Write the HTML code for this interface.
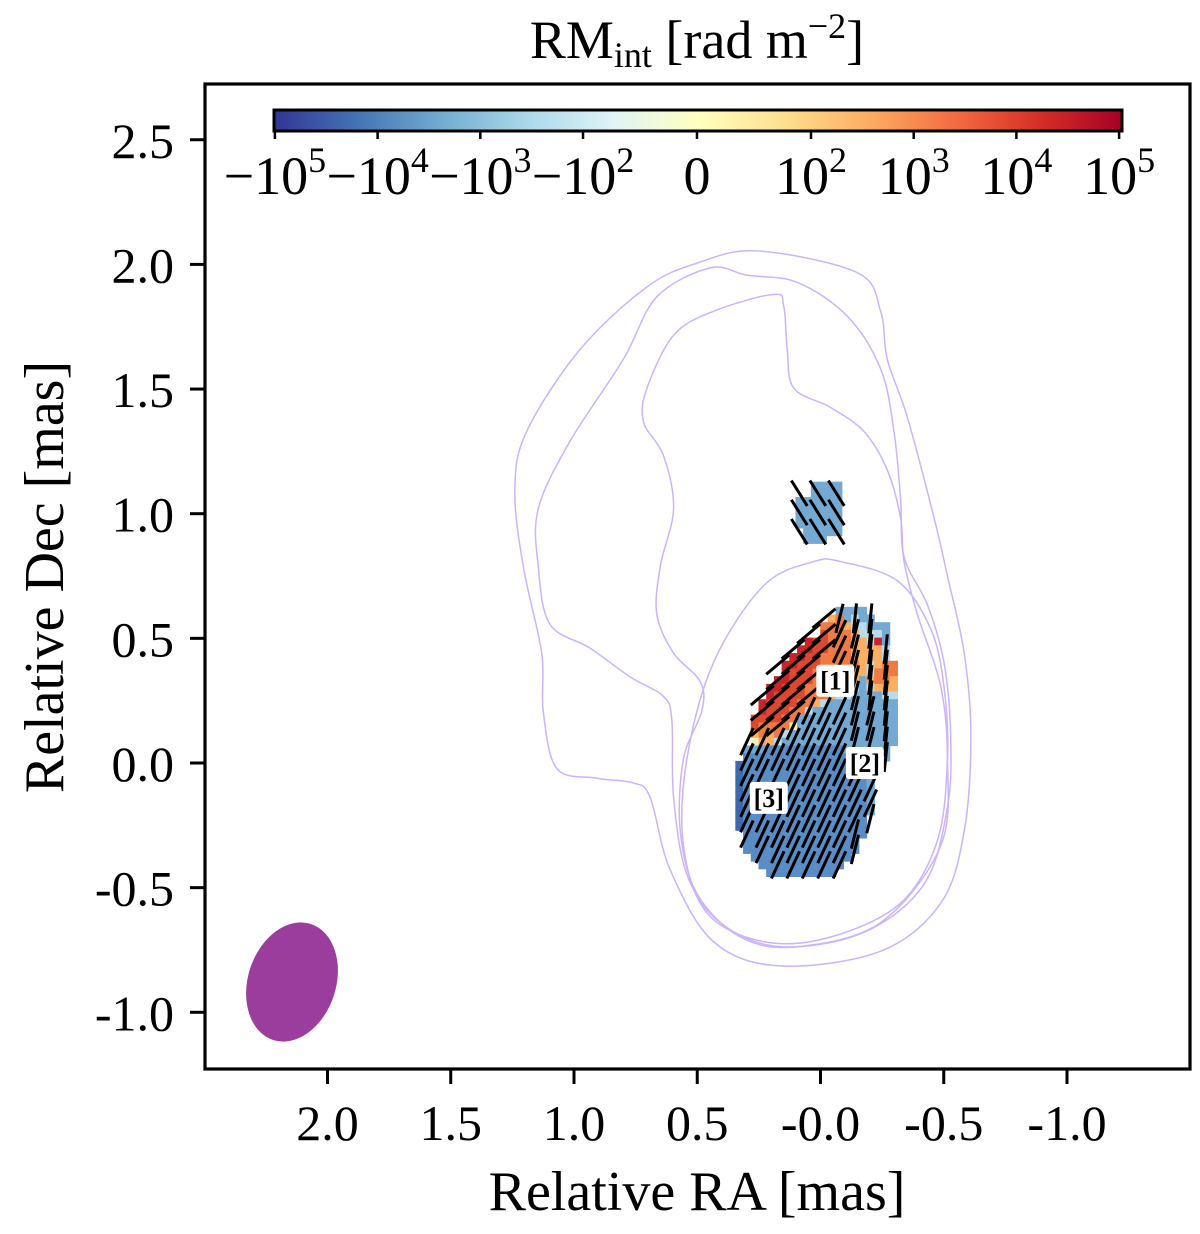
<!DOCTYPE html>
<html><head><meta charset="utf-8"><style>
html,body{margin:0;padding:0;background:#fff}
svg{display:block;font-family:"Liberation Serif",serif}
</style></head><body>
<svg id="chart" width="1200" height="1234" viewBox="0 0 1200 1234" xmlns="http://www.w3.org/2000/svg">
<defs>
<linearGradient id="cmap" x1="0" x2="1" y1="0" y2="0">
<stop offset="0" stop-color="#313695"/><stop offset="0.1" stop-color="#4575b4"/><stop offset="0.2" stop-color="#74add1"/><stop offset="0.3" stop-color="#abd9e9"/><stop offset="0.4" stop-color="#e0f3f8"/><stop offset="0.5" stop-color="#ffffbf"/><stop offset="0.6" stop-color="#fee090"/><stop offset="0.7" stop-color="#fdae61"/><stop offset="0.8" stop-color="#f46d43"/><stop offset="0.9" stop-color="#d73027"/><stop offset="1" stop-color="#a50026"/>
</linearGradient>
<clipPath id="plotclip"><rect x="205" y="84" width="985" height="985"/></clipPath>
</defs>
<g id="contours" clip-path="url(#plotclip)"></g>
<g id="pixels"></g>
<g id="vectors"></g>
<g id="labels"></g>
<ellipse cx="292" cy="982" rx="44" ry="61" transform="rotate(18 292 982)" fill="#9b3d9c"/>
<rect x="205" y="84" width="985" height="985" fill="none" stroke="#000" stroke-width="3.2"/>
<g id="axes"></g>
<rect x="274" y="110" width="848" height="21" fill="url(#cmap)" stroke="#000" stroke-width="3"/>
<g id="cbar-ticks"></g>
<text x="697" y="58" font-size="54" text-anchor="middle">RM<tspan font-size="36" dy="9">int</tspan><tspan dy="-9"> [rad m</tspan><tspan font-size="36" dy="-20">−2</tspan><tspan dy="20">]</tspan></text>
<text x="697" y="1210" font-size="56" text-anchor="middle">Relative RA [mas]</text>
<text x="0" y="0" font-size="56" text-anchor="middle" transform="translate(63 577) rotate(-90)">Relative Dec [mas]</text>
</svg>
<script>
const xTicks=[2.0,1.5,1.0,0.5,-0.0,-0.5,-1.0];
const xTickLabels=["2.0","1.5","1.0","0.5","-0.0","-0.5","-1.0"];
const yTicks=[2.5,2.0,1.5,1.0,0.5,0.0,-0.5,-1.0];
const yTickLabels=["2.5","2.0","1.5","1.0","0.5","0.0","-0.5","-1.0"];
const cbarTicks=[-5,-4,-3,-2,0,2,3,4,5];
const cbarLabels=[["−10","5"],["−10","4"],["−10","3"],["−10","2"],["0",""],["10","2"],["10","3"],["10","4"],["10","5"]];
const contour1=[[0.257,2.054],[-0.149,1.967],[-0.244,1.812],[-0.271,1.619],[-0.352,1.388],[-0.461,0.982],[-0.515,0.75],[-0.583,0.441],[-0.61,0.113],[-0.583,-0.273],[-0.488,-0.562],[-0.244,-0.755],[0.163,-0.814],[0.434,-0.717],[0.61,-0.428],[0.691,-0.138],[0.759,-0.08],[0.908,-0.061],[1.07,-0.022],[1.125,0.21],[1.131,0.441],[1.206,0.789],[1.24,1.098],[1.192,1.33],[0.976,1.658],[0.705,1.909],[0.501,2.005]];
const contour2=[[0.447,1.986],[0.298,1.957],[0.095,1.928],[-0.108,1.793],[-0.244,1.581],[-0.298,1.33],[-0.325,1.059],[-0.339,0.827],[-0.434,0.634],[-0.501,0.403],[-0.528,0.113],[-0.515,-0.177],[-0.42,-0.486],[-0.176,-0.679],[0.163,-0.737],[0.407,-0.64],[0.542,-0.447],[0.596,-0.138],[0.603,0.171],[0.637,0.267],[0.772,0.345],[0.935,0.461],[1.098,0.557],[1.145,0.789],[1.145,1.02],[1.016,1.291],[0.8,1.619],[0.664,1.87]];
const contour3=[[0.19,1.88],[0.149,1.832],[0.135,1.658],[0.108,1.503],[-0.041,1.426],[-0.176,1.33],[-0.271,1.175],[-0.325,0.982],[-0.339,0.808],[-0.393,0.596],[-0.488,0.306],[-0.515,0.016],[-0.488,-0.331],[-0.244,-0.64],[0.095,-0.737],[0.325,-0.698],[0.501,-0.524],[0.569,-0.273],[0.556,0.016],[0.481,0.21],[0.488,0.326],[0.596,0.441],[0.664,0.596],[0.65,0.789],[0.596,1.02],[0.637,1.233],[0.718,1.368],[0.704,1.503],[0.596,1.716],[0.434,1.812]];
const contour4=[[-0.081,0.808],[-0.312,0.731],[-0.447,0.538],[-0.501,0.306],[-0.515,0.016],[-0.474,-0.312],[-0.325,-0.562],[-0.041,-0.698],[0.23,-0.717],[0.461,-0.601],[0.556,-0.331],[0.542,0.016],[0.434,0.403],[0.23,0.712],[0.027,0.808]];
const mainOrigin=[0.3455,0.6265];
const patchOrigin=[0.1016,1.1285];
const cellRA=0.0313, cellDec=0.0309;
const mainGrid=[
".............llll....",
"............oOlcll...",
"...........OOOocclll.",
"...........rOOOocccl.",
".........RrrOOOoocRl.",
"........RRrrOOOooooc.",
".......RRrrOOOOooooc",
"......RRrrrOOOOOocoOO",
"......RrrrOOOOOoocOOO",
".....RRrrrOOOOOoloOOo",
"....RRrrrOOOoocclcooo",
"....RrrrrOOOoccllllcc",
"...RrrrrOOoclllllllll",
"...RrrrOOclllllllllll",
"..rrrrOOlllllllllllll",
"..rOOOOylllllllllllll",
"..oOoOcllllllllllllll",
"..yooclllllllllllllll",
".lllbbbbbbbbbbllllll.",
".bbbbbbbbbbbbbbbllll.",
"Bbbbbbbbbbbbbbbbbll..",
"Bbbbbbbbbbbbbbbbbl...",
"Bbbbbbbbbbbbbbbbbl...",
"Bbbbbbbbbbbbbbbbbl...",
"Bbbbbbbbbbbbbbbbbl...",
"Bbbbbbbbbbbbbbbbbl...",
"Bbbbbbbbbbbbbbbbbl...",
"Bbbbbbbbbbbbbbbbb....",
"Bbbbbbbbbbbbbbbbb....",
".bbbbbbbbbbbbbbbb....",
".bbbbbbbbbbbbbbb.....",
".bbbbbbbbbbbbbbb.....",
"..bbbbbbbbbbbbb......",
"...bbbbbbbbbbb.......",
"....bbbbbbbbb........"];
const patchGrid=["..llll","..llll","llllll","llllll","llllll","llllll",".lllll",".lll.."];
const mainVectors=[
".....acdd.",
"....aabcd.",
"...aaabcdd",
"..aaa.bcdd",
"..aaa..cdd",
".aaaa..cdd",
".aaabbbccd",
".aabbbbccd",
"bbbbbbbccd",
"bbbbbbb..d",
"bbbbbbbb..",
"b..bbbbbb.",
"b..bbbbbb.",
"bbbbbbbbc.",
"bbbbbbbc..",
".bbbbbbc..",
"..bbbbb..."];
const patchVectors=["e.e.e","e.e.e","e.e.e"];
const evpaDeg={a:50,b:25,c:14,d:6,e:-32};
const colors={B:"#3d69ae",b:"#5a8dc5",l:"#74a9d3",c:"#b8dcea",y:"#f6f0b6",o:"#fbaf62",O:"#f07a43",r:"#de4731",R:"#c92429"};
const labelsData=[["[1]",-0.06,0.33],["[2]",-0.18,0.0],["[3]",0.21,-0.14]];

const NS="http://www.w3.org/2000/svg";
const X=ra=>820.5-246.5*ra;
const Y=dec=>763-249.3*dec;
function mk(tag,attrs,parent){const e=document.createElementNS(NS,tag);for(const k in attrs)e.setAttribute(k,attrs[k]);parent.appendChild(e);return e;}

function smoothPath(pts){const p=pts.map(q=>[X(q[0]),Y(q[1])]);const n=p.length;let d=`M${p[0][0]},${p[0][1]}`;
for(let i=0;i<n;i++){const p0=p[(i-1+n)%n],p1=p[i],p2=p[(i+1)%n],p3=p[(i+2)%n];
d+=` C${p1[0]+(p2[0]-p0[0])/6},${p1[1]+(p2[1]-p0[1])/6} ${p2[0]-(p3[0]-p1[0])/6},${p2[1]-(p3[1]-p1[1])/6} ${p2[0]},${p2[1]}`;}return d+"Z";}
const cg=document.getElementById('contours');
[contour1,contour2,contour3,contour4].forEach((c,i)=>{const e=mk('path',{d:smoothPath(c),fill:'none',stroke:'#cbb4f7','stroke-width':1.5},cg);

});

const pg=document.getElementById('pixels');
function drawGrid(grid,origin,name){grid.forEach((row,r)=>{for(let c=0;c<row.length;c++){const ch=row[c];if(!colors[ch])continue;
const x0=X(origin[0]-c*cellRA),x1=X(origin[0]-(c+1)*cellRA),y0=Y(origin[1]-r*cellDec),y1=Y(origin[1]-(r+1)*cellDec);
const e=mk('rect',{x:x0,y:y0,width:x1-x0+0.6,height:y1-y0+0.6,fill:colors[ch]},pg);

}});}
drawGrid(mainGrid,mainOrigin,'rm-cell');
drawGrid(patchGrid,patchOrigin,'rm-patch-cell');

const vg=document.getElementById('vectors');
function drawVecs(rows,origin,rowStart,rowStep,colStart,colStep){rows.forEach((row,i)=>{for(let j=0;j<row.length;j++){const ch=row[j];if(!(ch in evpaDeg))continue;
const r=rowStart+i*rowStep,c=colStart+j*colStep;const cx=X(origin[0]-(c+0.5)*cellRA),cy=Y(origin[1]-(r+0.5)*cellDec);
const a=evpaDeg[ch]*Math.PI/180,L=15;const dx=Math.sin(a)*L,dy=Math.cos(a)*L;
const e=mk('line',{x1:cx-dx,y1:cy+dy,x2:cx+dx,y2:cy-dy,stroke:'#000','stroke-width':3},vg);

}});}
drawVecs(mainVectors,mainOrigin,1,2,1,2);
drawVecs(patchVectors,patchOrigin,1,2.5,0,1.2);

const lg=document.getElementById('labels');
labelsData.forEach(l=>{const cx=X(l[1]),cy=Y(l[2]);
const b=mk('rect',{x:cx-19,y:cy-16,width:38,height:32,fill:'#fff',rx:3},lg);


const t=mk('text',{x:cx,y:cy+9,'font-size':26,'font-weight':'bold','text-anchor':'middle'},lg);t.textContent=l[0];

});

const ag=document.getElementById('axes');
xTicks.forEach((v,i)=>{const x=X(v);const t=mk('line',{x1:x,y1:1069,x2:x,y2:1084,stroke:'#000','stroke-width':3},ag);


const l=mk('text',{x:x,y:1140,'font-size':50,'text-anchor':'middle'},ag);l.textContent=xTickLabels[i];

});
yTicks.forEach((v,i)=>{const y=Y(v);const t=mk('line',{x1:190,y1:y,x2:205,y2:y,stroke:'#000','stroke-width':3},ag);


const l=mk('text',{x:174,y:y+18,'font-size':50,'text-anchor':'end'},ag);l.textContent=yTickLabels[i];

});

// symlog colorbar axis (value = signed log10 decade; linear region |v|<2)
const CB=v=>{const a=Math.abs(v);const off=a<2?a*57:114+(a-2)*102.7;return 697+Math.sign(v)*off;};
const tg=document.getElementById('cbar-ticks');
cbarTicks.forEach((v,i)=>{const x=CB(v);const t=mk('line',{x1:x,y1:131,x2:x,y2:139,stroke:'#000','stroke-width':2.5},tg);


const l=mk('text',{x:x,y:194,'font-size':54,'text-anchor':'middle'},tg);


l.appendChild(document.createTextNode(cbarLabels[i][0]));
if(cbarLabels[i][1]){const s=mk('tspan',{'font-size':36,dy:-22},l);s.textContent=cbarLabels[i][1];}});
</script>
</body></html>
